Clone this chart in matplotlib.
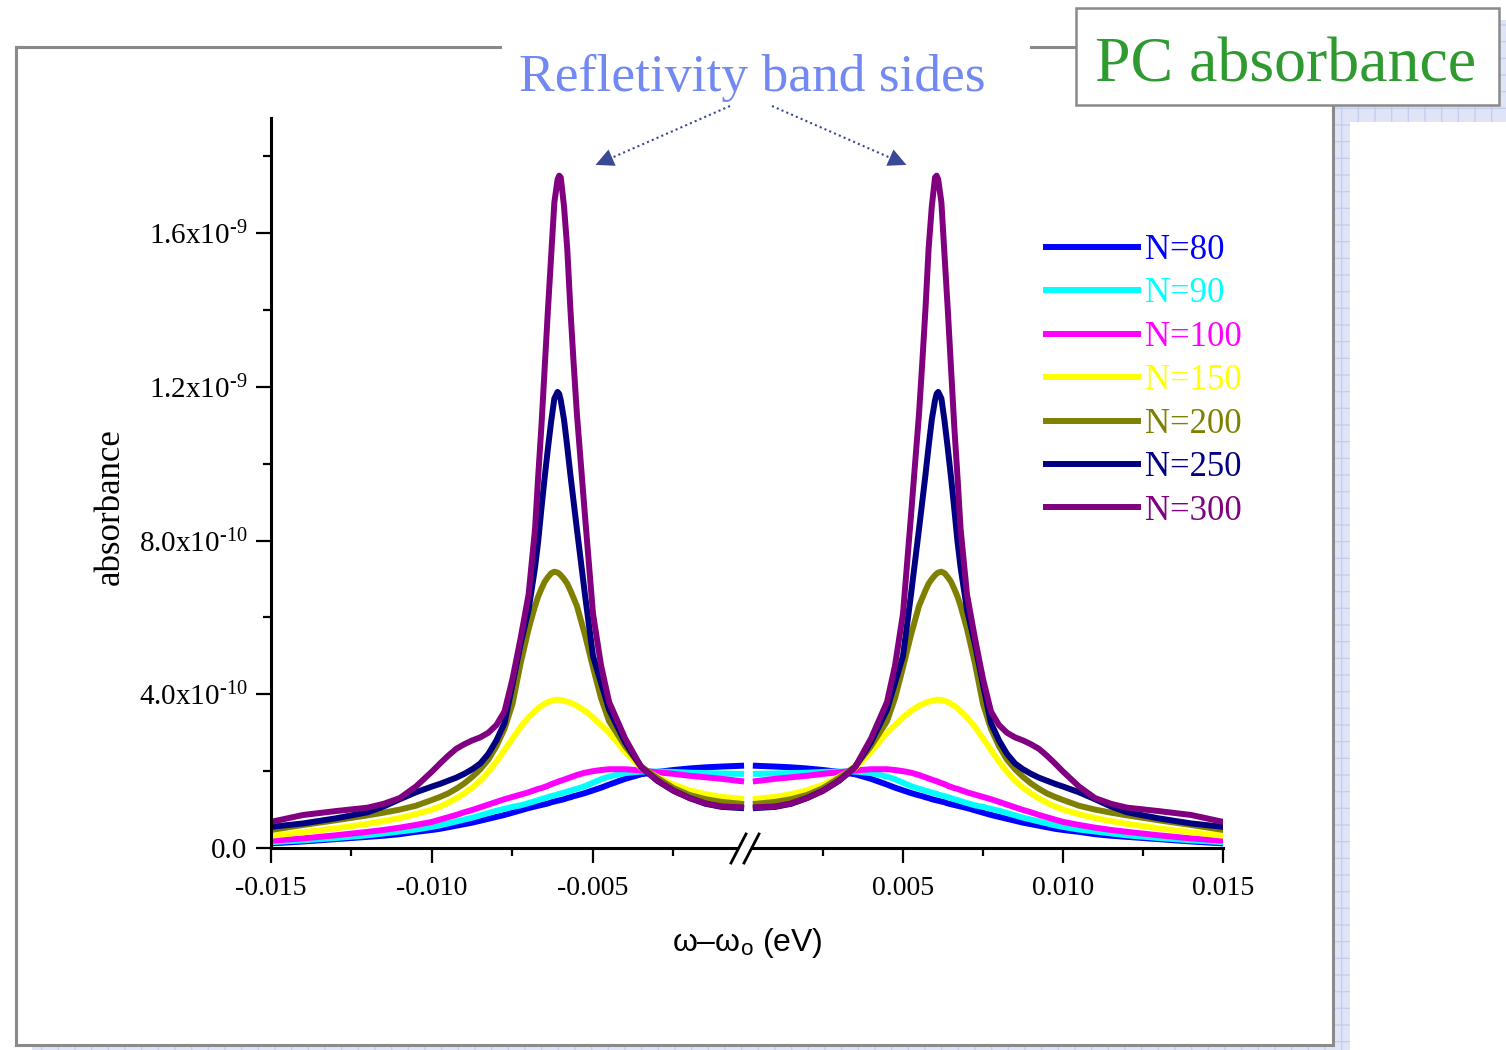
import numpy as np
import matplotlib.pyplot as plt
from matplotlib.lines import Line2D
from matplotlib.patches import Rectangle, FancyArrowPatch

plt.rcParams['font.family'] = ['Liberation Serif', 'DejaVu Serif']
plt.rcParams['mathtext.fontset'] = 'custom'
plt.rcParams['mathtext.rm'] = 'Liberation Serif'
plt.rcParams['mathtext.it'] = 'Liberation Serif:italic'
plt.rcParams['mathtext.sf'] = 'Liberation Sans'
plt.rcParams['axes.unicode_minus'] = False

W, H = 1506, 1050

# detuning w - w0 (eV), positive side; spectrum is symmetric so the
# negative side uses the same values mirrored
detuning = np.array([0.0004, 0.001, 0.0015, 0.002, 0.0025, 0.003, 0.0035, 0.004, 0.0045,
                     0.00475, 0.005, 0.00525, 0.0055, 0.0056, 0.0057, 0.0058, 0.0059,
                     0.006, 0.00605, 0.0061, 0.0062, 0.0063, 0.0064, 0.0065, 0.0066,
                     0.0067, 0.0068, 0.007, 0.00725, 0.0075, 0.00775, 0.008, 0.00825,
                     0.0085, 0.00875, 0.009, 0.00925, 0.0095, 0.00975, 0.010, 0.0105,
                     0.011, 0.0115, 0.012, 0.013, 0.014, 0.015])

# absorbance in units of 1e-10
abs_n80 = [2.14, 2.12, 2.10, 2.07, 2.03, 1.98, 1.92, 1.80, 1.65, 1.57, 1.50, 1.43, 1.37,
           1.35, 1.32, 1.30, 1.27, 1.25, 1.24, 1.23, 1.21, 1.19, 1.16, 1.14, 1.12, 1.10,
           1.08, 1.04, 0.98, 0.92, 0.86, 0.81, 0.76, 0.71, 0.66, 0.62, 0.58, 0.54, 0.50,
           0.47, 0.42, 0.36, 0.32, 0.29, 0.23, 0.17, 0.12]
abs_n90 = [1.93, 1.94, 1.95, 1.96, 1.98, 1.99, 1.99, 1.95, 1.86, 1.79, 1.70, 1.61, 1.54,
           1.52, 1.49, 1.47, 1.44, 1.42, 1.41, 1.39, 1.37, 1.35, 1.32, 1.30, 1.27, 1.25,
           1.22, 1.17, 1.11, 1.07, 1.02, 0.97, 0.91, 0.85, 0.79, 0.74, 0.69, 0.64, 0.59,
           0.55, 0.48, 0.43, 0.38, 0.33, 0.26, 0.20, 0.15]
abs_n100 = [1.74, 1.80, 1.84, 1.88, 1.93, 1.97, 2.02, 2.05, 2.05, 2.03, 2.00, 1.96, 1.90,
            1.87, 1.84, 1.81, 1.78, 1.75, 1.74, 1.72, 1.69, 1.66, 1.62, 1.59, 1.56, 1.54,
            1.51, 1.45, 1.39, 1.33, 1.27, 1.20, 1.13, 1.06, 0.99, 0.93, 0.86, 0.80, 0.74,
            0.68, 0.60, 0.53, 0.47, 0.42, 0.33, 0.25, 0.19]
abs_n150 = [1.28, 1.33, 1.40, 1.50, 1.65, 1.85, 2.08, 2.50, 3.00, 3.20, 3.40, 3.57, 3.70,
            3.74, 3.78, 3.81, 3.83, 3.85, 3.86, 3.86, 3.85, 3.83, 3.80, 3.75, 3.70, 3.64,
            3.56, 3.40, 3.15, 2.85, 2.55, 2.25, 1.98, 1.75, 1.57, 1.42, 1.29, 1.18, 1.08,
            1.00, 0.88, 0.78, 0.70, 0.63, 0.51, 0.41, 0.32]
abs_n200 = [1.15, 1.20, 1.27, 1.38, 1.56, 1.82, 2.12, 2.65, 3.30, 3.90, 4.70, 5.55, 6.30,
            6.50, 6.70, 6.88, 7.00, 7.10, 7.14, 7.17, 7.19, 7.15, 7.05, 6.93, 6.75, 6.55,
            6.30, 5.70, 4.80, 3.75, 3.10, 2.65, 2.30, 2.05, 1.85, 1.68, 1.54, 1.42, 1.33,
            1.25, 1.10, 1.00, 0.92, 0.85, 0.72, 0.60, 0.47]
abs_n250 = [1.04, 1.07, 1.15, 1.30, 1.49, 1.75, 2.10, 2.75, 3.60, 4.30, 5.00, 6.60, 8.30,
            9.00, 9.70, 10.45, 11.15, 11.65, 11.82, 11.87, 11.70, 11.10, 10.40, 9.65, 8.85,
            8.00, 7.30, 6.20, 5.30, 4.25, 3.25, 2.80, 2.45, 2.20, 2.05, 1.93, 1.83, 1.75,
            1.67, 1.60, 1.45, 1.27, 1.08, 0.93, 0.77, 0.64, 0.55]
abs_n300 = [1.06, 1.08, 1.16, 1.30, 1.49, 1.75, 2.10, 2.85, 3.80, 4.75, 6.10, 8.66, 11.30,
            12.60, 14.00, 15.60, 16.70, 17.45, 17.50, 17.40, 16.80, 15.40, 14.00, 12.50,
            11.00, 9.70, 8.30, 6.60, 5.45, 4.40, 3.55, 3.20, 3.00, 2.88, 2.80, 2.70, 2.58,
            2.40, 2.20, 1.99, 1.60, 1.30, 1.15, 1.05, 0.96, 0.86, 0.68]

labels = ["N=80", "N=90", "N=100", "N=150", "N=200", "N=250", "N=300"]
colors = ["#0000ff", "#00ffff", "#ff00ff", "#ffff00", "#808000", "#000080", "#800080"]
series = [abs_n80, abs_n90, abs_n100, abs_n150, abs_n200, abs_n250, abs_n300]

ytick_vals = [0.0, 4e-10, 8e-10, 1.2e-9, 1.6e-9]
ytick_labels = ["0.0", r"4.0x10$^{\text{-10}}$", r"8.0x10$^{\text{-10}}$",
                r"1.2x10$^{\text{-9}}$", r"1.6x10$^{\text{-9}}$"]


def fx(px):
    return px / W


def fy(py):
    return 1 - py / H


fig = plt.figure(figsize=(W / 100, H / 100), dpi=100)

# ---- slide decoration: shadow, frame, title box ----
shadow_kw = dict(transform=fig.transFigure, facecolor="#dfe4f7", edgecolor="#c6ceef",
                 hatch="+", lw=0, zorder=-5)
fig.add_artist(Rectangle((fx(32), fy(1050)), fx(1350) - fx(32), fy(63) - fy(1050), **shadow_kw))
fig.add_artist(Rectangle((fx(1090), fy(122)), fx(1506) - fx(1090), fy(20) - fy(122), **shadow_kw))
fig.add_artist(Rectangle((fx(16), fy(1045)), fx(1333) - fx(16), fy(47) - fy(1045),
                         transform=fig.transFigure, facecolor="white", lw=0, zorder=-4))

frame_col = "#8a8a8a"
for (x0, y0, x1, y1) in [(16, 47, 500, 47), (1031, 47, 1076, 47), (16, 47, 16, 1045),
                         (16, 1045, 1333, 1045), (1333, 105, 1333, 1045)]:
    fig.add_artist(Line2D([fx(x0), fx(x1)], [fy(y0), fy(y1)], transform=fig.transFigure,
                          color=frame_col, lw=2.2, zorder=-3))

fig.add_artist(Rectangle((fx(1076), fy(105)), fx(1499) - fx(1076), fy(8) - fy(105),
                         transform=fig.transFigure, facecolor="white", edgecolor=frame_col,
                         lw=1.8, zorder=5))
fig.text(fx(1286), fy(81), "PC absorbance", color="#2f9a2f", fontsize=46,
         ha="center", va="baseline", zorder=6)
fig.text(fx(752), fy(91), "Refletivity band sides", color="#7389f2", fontsize=38.5,
         ha="center", va="baseline", zorder=6)

arrow_col = "#3b4896"
for (sx, sy, tx, ty) in [(730, 106, 593, 166), (772, 106, 909, 166)]:
    d = np.hypot(tx - sx, ty - sy)
    ux, uy = (tx - sx) / d, (ty - sy) / d
    fig.add_artist(Line2D([fx(sx), fx(tx - 12 * ux)], [fy(sy), fy(ty - 12 * uy)],
                          transform=fig.transFigure, color=arrow_col, lw=1.5,
                          linestyle=(0, (1, 1.5)), zorder=6))
    fig.add_artist(FancyArrowPatch((fx(tx - 16 * ux), fy(ty - 16 * uy)), (fx(tx), fy(ty)),
                                   transform=fig.transFigure,
                                   arrowstyle="-|>,head_length=0.65,head_width=0.32",
                                   mutation_scale=20, color=arrow_col, lw=0, zorder=6))

# ---- broken-axis plot ----
bottom, height = fy(848), (848 - 118) / H
axl = fig.add_axes([fx(271), bottom, (748 - 271) / W, height])
axr = fig.add_axes([fx(748), bottom, (1223 - 748) / W, height])

for vals, col, lab in zip(series, colors, labels):
    y = np.array(vals) * 1e-10
    axl.plot(-detuning, y, color=col, lw=4.3, solid_joinstyle="round")
    axr.plot(detuning, y, color=col, lw=4.3, solid_joinstyle="round", label=lab)

for ax in (axl, axr):
    ax.set_ylim(0, 1.9e-9)
    ax.patch.set_alpha(0)
    ax.spines["top"].set_visible(False)
    ax.spines["right"].set_visible(False)
    ax.spines["bottom"].set_linewidth(2.2)
    ax.spines["left"].set_linewidth(2.2)
    ax.tick_params(which="both", direction="out", width=1.6, labelsize=20)
    ax.tick_params(which="major", length=11, pad=6)
    ax.tick_params(which="minor", length=6)

axl.set_xlim(-0.015, -0.000186)
axr.set_xlim(0.000156, 0.015)

axl.set_xticks([-0.015, -0.010, -0.005], ["-0.015", "-0.010", "-0.005"])
axl.set_xticks([-0.0125, -0.0075, -0.0025], minor=True)
axr.set_xticks([0.005, 0.010, 0.015], ["0.005", "0.010", "0.015"])
axr.set_xticks([0.0025, 0.0075, 0.0125], minor=True)
axl.tick_params(axis="x", which="major", pad=9)
axr.tick_params(axis="x", which="major", pad=9)

axl.set_yticks(ytick_vals, ytick_labels)
axl.set_yticks([2e-10, 6e-10, 1.0e-9, 1.4e-9, 1.8e-9], minor=True)
axl.tick_params(axis="y", labelsize=21)
axr.spines["left"].set_visible(False)
axr.tick_params(axis="y", which="both", left=False, labelleft=False)

# break marks on the x axis
fig.add_artist(Rectangle((fx(739), fy(852)), fx(752) - fx(739), fy(844) - fy(852),
                         transform=fig.transFigure, facecolor="white", lw=0, zorder=7))
for x0 in (731, 744):
    fig.add_artist(Line2D([fx(x0), fx(x0 + 15)], [fy(863), fy(834)], transform=fig.transFigure,
                          color="black", lw=2.0, zorder=8))

fig.text(fx(110), fy(507), "absorbance", rotation=90, fontsize=25, ha="center", va="center")
fig.text(fx(747), fy(943), r"ω–ω$_\mathsf{o}$ (eV)", family="Liberation Sans", fontsize=23,
         ha="center", va="center")

axr.legend(loc="upper left", bbox_to_anchor=(fx(1046), fy(234)),
           bbox_transform=fig.transFigure, frameon=False, fontsize=25,
           labelcolor="linecolor", handlelength=2.65, handletextpad=0.2,
           labelspacing=0.3, borderpad=0, borderaxespad=0)

fig.savefig("out.png", dpi=100)
